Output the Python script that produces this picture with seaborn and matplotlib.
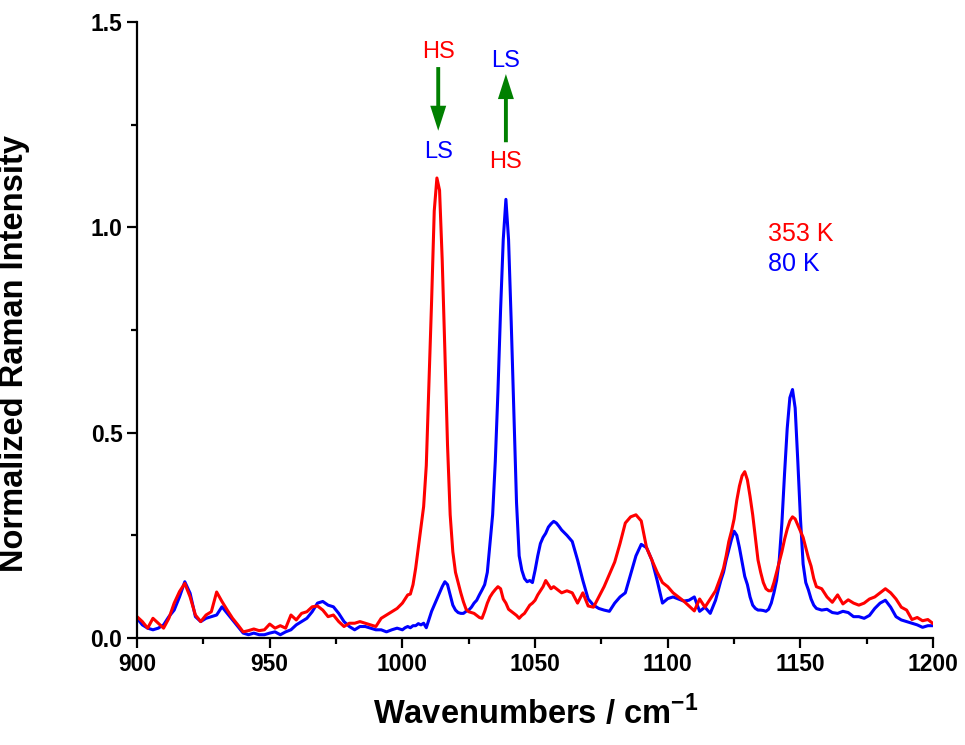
import numpy as np
import pandas as pd
import matplotlib.pyplot as plt
from matplotlib.ticker import MultipleLocator
import seaborn as sns

# Wavenumber grid (denser around the sharp peaks)
wavenumbers = np.concatenate([
    np.arange(900, 1001, 2),
    np.arange(1001, 1061, 1),
    np.arange(1062, 1121, 2),
    np.arange(1121, 1156, 1),
    np.arange(1156, 1201, 2)])

# 353 K spectrum (HS)
hot = [
    # 900 - 1000
    0.052, 0.040, 0.024, 0.048, 0.036, 0.024, 0.048, 0.085, 0.113, 0.133,
    0.100, 0.056, 0.040, 0.056, 0.064, 0.112, 0.089, 0.068, 0.048, 0.032,
    0.015, 0.018, 0.022, 0.018, 0.020, 0.034, 0.024, 0.030, 0.024, 0.056,
    0.044, 0.060, 0.064, 0.076, 0.078, 0.068, 0.052, 0.056, 0.040, 0.028,
    0.036, 0.036, 0.040, 0.036, 0.032, 0.028, 0.048, 0.056, 0.064, 0.072,
    0.085,
    # 1001 - 1060
    0.095, 0.105, 0.107, 0.130, 0.170, 0.220, 0.270, 0.320, 0.420, 0.620,
    0.820, 1.040, 1.120, 1.090, 0.920, 0.700, 0.470, 0.300, 0.210, 0.160,
    0.135, 0.110, 0.088, 0.070, 0.064, 0.062, 0.060, 0.055, 0.050, 0.048,
    0.065, 0.085, 0.100, 0.110, 0.118, 0.125, 0.120, 0.095, 0.085, 0.070,
    0.065, 0.060, 0.055, 0.048, 0.055, 0.060, 0.070, 0.080, 0.085, 0.092,
    0.105, 0.115, 0.125, 0.140, 0.130, 0.120, 0.125, 0.120, 0.115, 0.110,
    # 1062 - 1120
    0.115, 0.110, 0.085, 0.110, 0.078, 0.075, 0.100, 0.125, 0.155, 0.185,
    0.230, 0.280, 0.295, 0.300, 0.285, 0.220, 0.190, 0.160, 0.135, 0.125,
    0.110, 0.100, 0.090, 0.078, 0.066, 0.095, 0.075, 0.095, 0.115, 0.150,
    # 1121 - 1155
    0.170, 0.200, 0.235, 0.260, 0.290, 0.335, 0.370, 0.395, 0.405, 0.385,
    0.345, 0.300, 0.245, 0.190, 0.160, 0.135, 0.120, 0.115, 0.115, 0.135,
    0.160, 0.185, 0.210, 0.240, 0.265, 0.285, 0.295, 0.290, 0.275, 0.260,
    0.245, 0.220, 0.195, 0.175, 0.145,
    # 1156 - 1200
    0.125, 0.120, 0.100, 0.087, 0.105, 0.083, 0.093, 0.085, 0.080, 0.085,
    0.095, 0.100, 0.110, 0.120, 0.110, 0.095, 0.075, 0.068, 0.045, 0.050,
    0.042, 0.045, 0.035]

# 80 K spectrum (LS)
cold = [
    # 900 - 1000
    0.048, 0.032, 0.024, 0.020, 0.024, 0.032, 0.052, 0.068, 0.100, 0.137,
    0.109, 0.052, 0.040, 0.048, 0.052, 0.056, 0.076, 0.060, 0.044, 0.028,
    0.012, 0.008, 0.012, 0.008, 0.008, 0.012, 0.015, 0.008, 0.015, 0.020,
    0.032, 0.040, 0.048, 0.064, 0.085, 0.089, 0.080, 0.076, 0.060, 0.040,
    0.028, 0.020, 0.028, 0.028, 0.024, 0.020, 0.020, 0.015, 0.020, 0.024,
    0.020,
    # 1001 - 1060
    0.025, 0.028, 0.025, 0.030, 0.030, 0.035, 0.032, 0.036, 0.025, 0.045,
    0.065, 0.080, 0.095, 0.110, 0.125, 0.137, 0.130, 0.105, 0.080, 0.068,
    0.062, 0.060, 0.060, 0.065, 0.068, 0.075, 0.085, 0.092, 0.105, 0.117,
    0.130, 0.160, 0.230, 0.300, 0.430, 0.600, 0.800, 0.970, 1.068, 0.970,
    0.770, 0.550, 0.330, 0.200, 0.165, 0.145, 0.137, 0.140, 0.135, 0.165,
    0.200, 0.230, 0.245, 0.255, 0.270, 0.278, 0.284, 0.280, 0.272, 0.263,
    # 1062 - 1120
    0.250, 0.235, 0.190, 0.140, 0.095, 0.080, 0.072, 0.068, 0.065, 0.085,
    0.100, 0.110, 0.155, 0.200, 0.228, 0.220, 0.190, 0.140, 0.085, 0.096,
    0.100, 0.095, 0.090, 0.092, 0.100, 0.065, 0.075, 0.060, 0.092, 0.140,
    # 1121 - 1155
    0.160, 0.190, 0.215, 0.240, 0.260, 0.250, 0.220, 0.185, 0.150, 0.130,
    0.100, 0.080, 0.072, 0.068, 0.068, 0.067, 0.065, 0.070, 0.085, 0.110,
    0.140, 0.190, 0.280, 0.400, 0.510, 0.585, 0.605, 0.560, 0.430, 0.290,
    0.180, 0.135, 0.117, 0.095, 0.080,
    # 1156 - 1200
    0.072, 0.068, 0.070, 0.062, 0.060, 0.065, 0.062, 0.052, 0.052, 0.048,
    0.055, 0.072, 0.085, 0.092, 0.075, 0.052, 0.044, 0.040, 0.036, 0.032,
    0.026, 0.030, 0.030]

temperatures = ['80 K', '353 K']
colors = {'353 K': '#ff0000', '80 K': '#0000ff'}

df = pd.concat([
    pd.DataFrame({'wavenumber': wavenumbers, 'intensity': cold, 'T': '80 K'}),
    pd.DataFrame({'wavenumber': wavenumbers, 'intensity': hot, 'T': '353 K'})])

sns.set_style('ticks')
plt.rcParams['font.family'] = ['Liberation Sans', 'DejaVu Sans']
plt.rcParams['mathtext.fontset'] = 'custom'
plt.rcParams['mathtext.rm'] = 'Liberation Sans'
plt.rcParams['mathtext.bf'] = 'Liberation Sans:bold'
plt.rcParams['text.color'] = 'black'
plt.rcParams['axes.labelcolor'] = 'black'
plt.rcParams['xtick.color'] = 'black'
plt.rcParams['ytick.color'] = 'black'

fig = plt.figure(figsize=(9.65, 7.45), dpi=100)
ax = fig.add_axes([0.142, 0.1436, 0.825, 0.827])

sns.lineplot(
    ax = ax,
    data = df,
    x = 'wavenumber',
    y = 'intensity',
    hue = 'T',
    hue_order = temperatures,
    palette = colors,
    estimator = None,
    sort = False,
    linewidth = 2.2,
    legend = False)

ax.set_xlim(900, 1200)
ax.set_ylim(0, 1.5)
ax.xaxis.set_major_locator(MultipleLocator(50))
ax.xaxis.set_minor_locator(MultipleLocator(25))
ax.yaxis.set_major_locator(MultipleLocator(0.5))
ax.yaxis.set_minor_locator(MultipleLocator(0.25))
ax.set_yticks([0, 0.5, 1.0, 1.5], labels=['0.0', '0.5', '1.0', '1.5'])

sns.despine(ax=ax)
for side in ['left', 'bottom']:
    ax.spines[side].set_linewidth(1.6)
    ax.spines[side].set_color('black')
ax.tick_params(which='major', direction='out', length=7, width=1.6,
               labelsize=16.5, colors='black')
ax.tick_params(which='minor', direction='out', length=4, width=1.6,
               colors='black')
for lbl in ax.get_xticklabels() + ax.get_yticklabels():
    lbl.set_fontweight('bold')

ax.set_xlabel('Wavenumbers / cm$^{\\mathbf{-1}}$', fontsize=23.5, fontweight='bold')
ax.set_ylabel('Normalized Raman Intensity', fontsize=23.5, fontweight='bold')
ax.xaxis.set_label_coords(0.5, -0.093)
ax.yaxis.set_label_coords(-0.134, 0.461)

# Spin-state labels and arrows
ax.text(1013.5, 1.427, 'HS', color='red', fontsize=17, ha='center', va='center')
ax.text(1013.5, 1.183, 'LS', color='blue', fontsize=17, ha='center', va='center')
ax.text(1039, 1.405, 'LS', color='blue', fontsize=17, ha='center', va='center')
ax.text(1039, 1.159, 'HS', color='red', fontsize=17, ha='center', va='center')
arrow = dict(facecolor='#008000', edgecolor='none', width=2.8,
             headwidth=11.5, headlength=18, shrink=0)
ax.annotate('', xy=(1013.5, 1.235), xytext=(1013.5, 1.39), arrowprops=arrow)
ax.annotate('', xy=(1039, 1.373), xytext=(1039, 1.207), arrowprops=arrow)

ax.text(1137.6, 0.983, '353 K', color='red', fontsize=18, ha='left', va='center')
ax.text(1137.6, 0.910, '80 K', color='blue', fontsize=18, ha='left', va='center')

fig.savefig('out.png', dpi=100)
